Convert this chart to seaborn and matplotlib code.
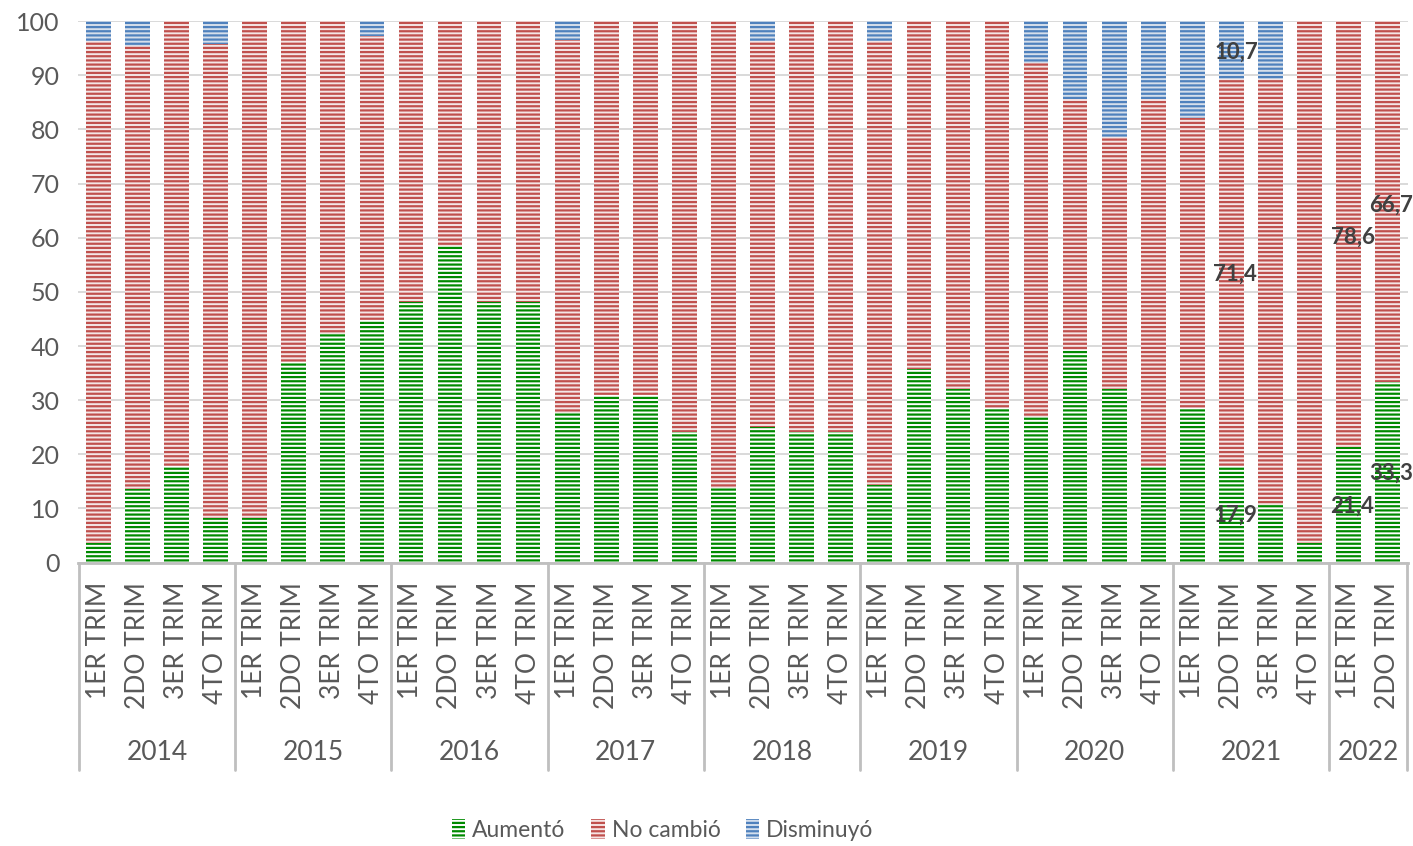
import matplotlib
matplotlib.use("Agg")
import matplotlib.pyplot as plt
from matplotlib.patches import Patch
from matplotlib.lines import Line2D
import matplotlib.transforms as mtransforms
import seaborn as sns

# Data (percent of respondents)
years = ["2014", "2015", "2016", "2017", "2018", "2019", "2020", "2021", "2022"]
quarters_per_year = [4, 4, 4, 4, 4, 4, 4, 4, 2]
quarter_names = ["1ER TRIM", "2DO TRIM", "3ER TRIM", "4TO TRIM"]

aumento = [3.6, 13.6, 17.9, 8.3, 8.3, 37.0, 42.3, 44.8,
           48.1, 58.5, 48.1, 48.1, 27.6, 31.0, 31.0, 24.1,
           13.8, 25.0, 24.1, 24.1, 14.3, 35.7, 32.1, 28.6,
           26.9, 39.3, 32.1, 17.9, 28.6, 17.9, 10.7, 3.6,
           21.4, 33.3]
no_cambio = [92.8, 81.9, 82.1, 87.5, 91.7, 63.0, 57.7, 52.4,
             51.9, 41.5, 51.9, 51.9, 69.0, 69.0, 69.0, 75.9,
             86.2, 71.4, 75.9, 75.9, 82.1, 64.3, 67.9, 71.4,
             65.4, 46.4, 46.5, 67.8, 53.5, 71.4, 78.6, 96.4,
             78.6, 66.7]
disminuyo = [3.6, 4.5, 0, 4.2, 0, 0, 0, 2.8,
             0, 0, 0, 0, 3.4, 0, 0, 0,
             0, 3.6, 0, 0, 3.6, 0, 0, 0,
             7.7, 14.3, 21.4, 14.3, 17.9, 10.7, 10.7, 0,
             0, 0]

# Data labels shown in the reference: (bar index, series, label x, label y)
labelled = [(29, "disminuyo", 29.13, 94.3), (29, "no_cambio", 29.1, 53.2),
            (29, "aumento", 29.1, 8.8), (32, "aumento", 32.08, 10.4),
            (32, "no_cambio", 32.1, 60.1), (33, "aumento", 33.09, 16.5),
            (33, "no_cambio", 33.09, 66.0)]

series_names = ["Aumentó", "No cambió", "Disminuyó"]
stripe = {"Aumentó": "#008a00", "No cambió": "#c0504d", "Disminuyó": "#4f81bd"}
gap = {"Aumentó": "#ffffff", "No cambió": "#f6e4e4", "Disminuyó": "#d3dfee"}
text_grey = "#595959"

sns.set_style("white")
plt.rcParams["font.family"] = ["Lato", "DejaVu Sans"]
plt.rcParams["hatch.linewidth"] = 1.6

# unique category keys, one per bar
keys = []
tick_labels = []
for year, n in zip(years, quarters_per_year):
    for q in quarter_names[:n]:
        keys.append(f"{year} {q}")
        tick_labels.append(q)

top_red = [a + n for a, n in zip(aumento, no_cambio)]
top_all = [t + d for t, d in zip(top_red, disminuyo)]

fig = plt.figure(figsize=(14.13, 8.46), dpi=100)
ax = fig.add_axes([0.0552, 0.335, 0.9413, 0.640])

# stacked layers drawn back to front
for heights, name in [(top_all, "Disminuyó"), (top_red, "No cambió"), (aumento, "Aumentó")]:
    sns.barplot(x=keys, y=heights, order=keys, ax=ax, errorbar=None, width=0.63,
                color=gap[name], edgecolor=stripe[name], hatch="----", linewidth=0)

values = {"aumento": aumento, "no_cambio": no_cambio, "disminuyo": disminuyo}
for i, ser, lx, ly in labelled:
    txt = f"{values[ser][i]:.1f}".replace(".", ",")
    ax.text(lx, ly, txt, ha="center", va="center", fontsize=16, fontweight="bold",
            color="#404040", zorder=5)

ax.set_ylim(0, 100)
ax.set_xlim(-0.52, len(keys) - 0.48)
ax.set_yticks(range(0, 101, 10))
ax.tick_params(axis="y", labelsize=18, labelcolor=text_grey, length=0, pad=13)
ax.set_xticks(range(len(keys)))
ax.set_xticklabels(tick_labels, rotation=90, fontsize=19, color=text_grey)
ax.tick_params(axis="x", length=0, pad=14)
ax.set_xlabel("")
ax.set_ylabel("")

ax.set_axisbelow(True)
ax.yaxis.grid(True, color="#d9d9d9", linewidth=1.4)
for side in ["top", "right", "left"]:
    ax.spines[side].set_visible(False)
ax.spines["bottom"].set_color("#bfbfbf")
ax.spines["bottom"].set_linewidth(2)

# year group separators and labels below the quarter labels
trans = mtransforms.blended_transform_factory(ax.transData, ax.transAxes)
start = -0.5
for year, n in zip(years, quarters_per_year):
    ax.add_line(Line2D([start, start], [0, -0.383], transform=trans, color="#bfbfbf",
                       linewidth=2, clip_on=False))
    ax.text(start + n / 2, -0.35, year, transform=trans, ha="center", va="center",
            fontsize=19, color=text_grey)
    start += n
ax.add_line(Line2D([start, start], [0, -0.383], transform=trans, color="#bfbfbf",
                   linewidth=2, clip_on=False))

handles = [Patch(facecolor=gap[s], edgecolor=stripe[s], hatch="----", linewidth=0, label=s)
           for s in series_names]
fig.legend(handles=handles, loc="center", bbox_to_anchor=(0.469, 0.019), ncol=3,
           frameon=False, fontsize=16.5, labelcolor=text_grey, handlelength=0.6,
           handleheight=1.0, handletextpad=0.3, columnspacing=1.1)

fig.savefig("out.png", dpi=100)
